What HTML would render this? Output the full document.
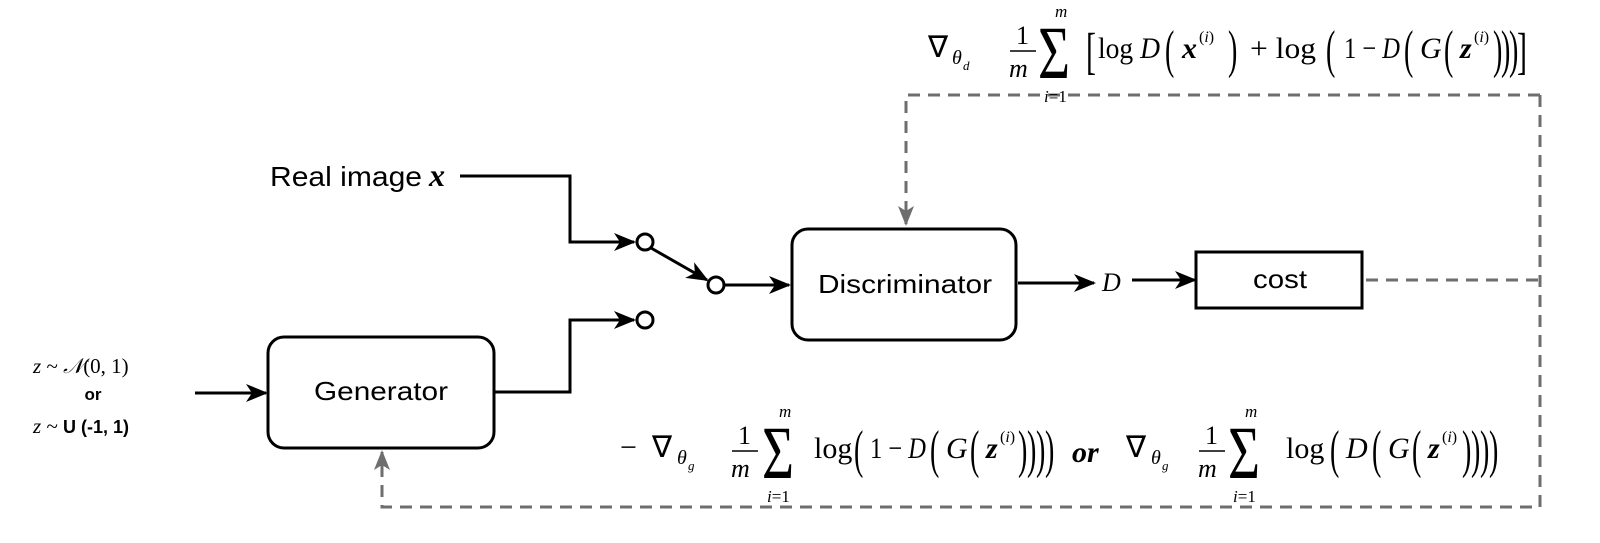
<!DOCTYPE html>
<html><head><meta charset="utf-8"><style>
html,body{margin:0;padding:0;background:#fff;}
svg{display:block}
.s{font-family:"Liberation Sans",sans-serif;}
.m{font-family:"Liberation Serif",serif;}
</style></head><body>
<svg width="1600" height="543" viewBox="0 0 1600 543" xmlns="http://www.w3.org/2000/svg">
<defs>
<marker id="b" markerWidth="22" markerHeight="22" refX="20" refY="11" orient="auto" markerUnits="userSpaceOnUse"><path d="M0,2 L22,11 L0,20 L6,11 Z" fill="#000"/></marker>
<marker id="g" markerWidth="20" markerHeight="20" refX="18" refY="10" orient="auto" markerUnits="userSpaceOnUse"><path d="M0,2 L20,10 L0,18 L5,10 Z" fill="#6e6e6e"/></marker>
</defs>
<g fill="none" stroke="#000" stroke-width="3">
<polyline points="460,176 570,176 570,242 634,242" marker-end="url(#b)"/>
<circle cx="645" cy="242" r="8"/>
<line x1="651" y1="248" x2="707" y2="280" marker-end="url(#b)"/>
<circle cx="716" cy="285" r="8"/>
<line x1="724" y1="285" x2="789" y2="285" marker-end="url(#b)"/>
<rect x="792" y="229" width="224" height="111" rx="16"/>
<line x1="1018" y1="283" x2="1094" y2="283" marker-end="url(#b)"/>
<line x1="1132" y1="280" x2="1195" y2="280" marker-end="url(#b)"/>
<rect x="1196" y="252" width="166" height="56"/>
<rect x="268" y="337" width="226" height="111" rx="16"/>
<line x1="195" y1="393" x2="266" y2="393" marker-end="url(#b)"/>
<polyline points="494,392 570,392 570,320 634,320" marker-end="url(#b)"/>
<circle cx="645" cy="320" r="8"/>
</g>
<g fill="none" stroke="#6e6e6e" stroke-width="3" stroke-dasharray="12,8">
<polyline points="1366,280 1540,280"/>
<polyline points="1540,95 906,95 906,224" marker-end="url(#g)"/>
<polyline points="1540,95 1540,507 382,507 382,452" marker-end="url(#g)"/>
</g>
<g class="s" fill="#000">
<text x="905" y="293" font-size="26" text-anchor="middle" textLength="174" lengthAdjust="spacingAndGlyphs">Discriminator</text>
<text x="1280" y="288" font-size="26" text-anchor="middle" textLength="54" lengthAdjust="spacingAndGlyphs">cost</text>
<text x="381" y="400" font-size="26" text-anchor="middle" textLength="134" lengthAdjust="spacingAndGlyphs">Generator</text>
<text x="270" y="186" font-size="28" textLength="152" lengthAdjust="spacingAndGlyphs">Real image</text>
<text x="93" y="400" font-size="17" font-weight="bold" text-anchor="middle">or</text>
<text x="63" y="433" font-size="18" font-weight="bold">U (-1, 1)</text>
</g>
<g class="m" fill="#000">
<text x="429" y="186" font-size="32" font-style="italic" font-weight="bold">x</text>
<text x="1102" y="291" font-size="26" font-style="italic">D</text>
<text x="33" y="373" font-size="21"><tspan font-style="italic">z</tspan> ~ <tspan font-style="italic">𝒩</tspan>(0, 1)</text>
<text x="33" y="433" font-size="21"><tspan font-style="italic">z</tspan> ~</text>
</g>
<!-- top formula -->
<g class="m" fill="#000" font-size="30">
<text x="928" y="57">∇</text>
<text x="952" y="64" font-size="20" font-style="italic">θ</text>
<text x="963" y="70" font-size="13" font-style="italic">d</text>
<text x="1016" y="44" font-size="26">1</text>
<line x1="1010" y1="51" x2="1036" y2="51" stroke="#000" stroke-width="1.5"/>
<text x="1009" y="77" font-size="26" font-style="italic">m</text>
<text transform="translate(1038,78) scale(1.1,1.5)" font-size="50">Σ</text>
<text x="1055" y="17" font-size="17" font-style="italic">m</text>
<text x="1044" y="102" font-size="17"><tspan font-style="italic">i</tspan>=1</text>
<text transform="translate(1086,68) scale(1,1.7)" font-size="30">[</text>
<text x="1098" y="58" textLength="62" lengthAdjust="spacingAndGlyphs">log <tspan font-style="italic">D</tspan></text>
<text transform="translate(1165,67) scale(1,1.9)" font-size="28">(</text>
<text x="1182" y="58" font-style="italic" font-weight="bold">x</text>
<text x="1199" y="42" font-size="16">(<tspan font-style="italic">i</tspan>)</text>
<text transform="translate(1228,67) scale(1,1.9)" font-size="28">)</text>
<text x="1250" y="58" textLength="66" lengthAdjust="spacingAndGlyphs">+ log</text>
<text transform="translate(1326,67) scale(1,1.9)" font-size="28">(</text>
<text x="1344" y="58" textLength="56" lengthAdjust="spacingAndGlyphs">1 − <tspan font-style="italic">D</tspan></text>
<text transform="translate(1404,67) scale(1,1.9)" font-size="28">(</text>
<text x="1420" y="58" font-style="italic">G</text>
<text transform="translate(1444,67) scale(1,1.9)" font-size="28">(</text>
<text x="1460" y="58" font-style="italic" font-weight="bold">z</text>
<text x="1474" y="42" font-size="16">(<tspan font-style="italic">i</tspan>)</text>
<text transform="translate(1493,67) scale(1,1.9)" font-size="28">)</text>
<text transform="translate(1501,67) scale(1,1.9)" font-size="28">)</text>
<text transform="translate(1509,67) scale(1,1.9)" font-size="28">)</text>
<text transform="translate(1517,68) scale(1,1.7)" font-size="30">]</text>
</g>
<!-- bottom formula -->
<g class="m" fill="#000" font-size="30">
<text x="620" y="457">−</text>
<text x="652" y="457">∇</text>
<text x="677" y="464" font-size="20" font-style="italic">θ</text>
<text x="688" y="470" font-size="13" font-style="italic">g</text>
<text x="738" y="444" font-size="26">1</text>
<line x1="732" y1="451" x2="758" y2="451" stroke="#000" stroke-width="1.5"/>
<text x="731" y="477" font-size="26" font-style="italic">m</text>
<text transform="translate(762,478) scale(1.1,1.5)" font-size="50">Σ</text>
<text x="779" y="417" font-size="17" font-style="italic">m</text>
<text x="767" y="502" font-size="17"><tspan font-style="italic">i</tspan>=1</text>
<text x="814" y="458">log</text>
<text transform="translate(854,467) scale(1,1.9)" font-size="28">(</text>
<text x="870" y="458" textLength="56" lengthAdjust="spacingAndGlyphs">1 − <tspan font-style="italic">D</tspan></text>
<text transform="translate(930,467) scale(1,1.9)" font-size="28">(</text>
<text x="946" y="458" font-style="italic">G</text>
<text transform="translate(970,467) scale(1,1.9)" font-size="28">(</text>
<text x="986" y="458" font-style="italic" font-weight="bold">z</text>
<text x="1000" y="442" font-size="16">(<tspan font-style="italic">i</tspan>)</text>
<text transform="translate(1018,467) scale(1,1.9)" font-size="28">)</text>
<text transform="translate(1027,467) scale(1,1.9)" font-size="28">)</text>
<text transform="translate(1036,467) scale(1,1.9)" font-size="28">)</text>
<text transform="translate(1045,467) scale(1,1.9)" font-size="28">)</text>
<text x="1072" y="462" font-style="italic" font-weight="bold">or</text>
<text x="1126" y="457">∇</text>
<text x="1151" y="464" font-size="20" font-style="italic">θ</text>
<text x="1162" y="470" font-size="13" font-style="italic">g</text>
<text x="1205" y="444" font-size="26">1</text>
<line x1="1199" y1="451" x2="1225" y2="451" stroke="#000" stroke-width="1.5"/>
<text x="1198" y="477" font-size="26" font-style="italic">m</text>
<text transform="translate(1228,478) scale(1.1,1.5)" font-size="50">Σ</text>
<text x="1245" y="417" font-size="17" font-style="italic">m</text>
<text x="1233" y="502" font-size="17"><tspan font-style="italic">i</tspan>=1</text>
<text x="1286" y="458">log</text>
<text transform="translate(1330,467) scale(1,1.9)" font-size="28">(</text>
<text x="1346" y="458" font-style="italic">D</text>
<text transform="translate(1372,467) scale(1,1.9)" font-size="28">(</text>
<text x="1388" y="458" font-style="italic">G</text>
<text transform="translate(1412,467) scale(1,1.9)" font-size="28">(</text>
<text x="1428" y="458" font-style="italic" font-weight="bold">z</text>
<text x="1442" y="442" font-size="16">(<tspan font-style="italic">i</tspan>)</text>
<text transform="translate(1462,467) scale(1,1.9)" font-size="28">)</text>
<text transform="translate(1471,467) scale(1,1.9)" font-size="28">)</text>
<text transform="translate(1480,467) scale(1,1.9)" font-size="28">)</text>
<text transform="translate(1489,467) scale(1,1.9)" font-size="28">)</text>
</g>
</svg>
</body></html>
